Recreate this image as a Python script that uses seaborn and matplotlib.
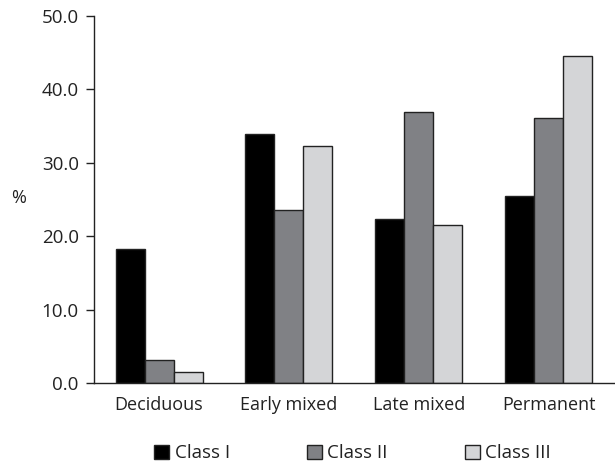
import matplotlib
matplotlib.use("Agg")
import matplotlib.pyplot as plt
import seaborn as sns
import pandas as pd

stages = ["Deciduous", "Early mixed", "Late mixed", "Permanent"]
classes = ["Class I", "Class II", "Class III"]
class_1 = [18.3, 33.9, 22.4, 25.5]
class_2 = [3.2, 23.6, 36.9, 36.1]
class_3 = [1.5, 32.3, 21.5, 44.6]
yticks = [0.0, 10.0, 20.0, 30.0, 40.0, 50.0]

rows = []
for cls, vals in zip(classes, [class_1, class_2, class_3]):
    for st, v in zip(stages, vals):
        rows.append({"stage": st, "cls": cls, "value": v})
df = pd.DataFrame(rows)

sns.set_theme(style="white")
plt.rcParams["font.family"] = ["Open Sans", "DejaVu Sans"]

fig = plt.figure(figsize=(6.15, 4.66), dpi=100)
ax = fig.add_axes([0.153, 0.178, 0.845, 0.788])

palette = {"Class I": "#000000", "Class II": "#808185", "Class III": "#d4d5d7"}
sns.barplot(data=df, x="stage", y="value", hue="cls", hue_order=classes,
            order=stages, palette=palette, edgecolor="#222222", linewidth=1.0,
            width=0.67, gap=0, saturation=1, ax=ax)

ax.set_ylim(0, 50)
ax.set_xlim(-0.5, 3.5)
ax.set_yticks(yticks)
ax.set_yticklabels([f"{t:.1f}" for t in yticks], fontsize=13.5, color="#222222")
ax.set_xticks([-0.5, 0.5, 1.5, 2.5, 3.5])
ax.set_xticklabels([])
ax.set_xticks(range(len(stages)), minor=True)
ax.set_xticklabels(stages, minor=True, fontsize=13, color="#222222")
ax.tick_params(axis="x", which="major", length=7, width=1, color="#222222", direction="out")
ax.tick_params(axis="x", which="minor", length=0, pad=9)
ax.tick_params(axis="y", length=6, width=1, color="#222222", direction="out", left=True, pad=5)
ax.set_xlabel("")
ax.set_ylabel("%", rotation=0, fontsize=13, color="#222222", va="center")
ax.yaxis.set_label_coords(-0.145, 0.505)
for s in ["top", "right"]:
    ax.spines[s].set_visible(False)
for s in ["left", "bottom"]:
    ax.spines[s].set_color("#222222")
    ax.spines[s].set_linewidth(1.0)

ax.legend_.remove()
from matplotlib.patches import Patch
handles = [Patch(facecolor=palette[c], edgecolor="#222222", linewidth=1.0) for c in classes]
fig.legend(handles, classes, loc="center", bbox_to_anchor=(0.573, 0.027), ncol=3,
           frameon=False, fontsize=13.5, handlelength=0.8, handleheight=0.8,
           handletextpad=0.3, columnspacing=4.1, labelcolor="#222222",
           borderpad=0, borderaxespad=0)

fig.savefig("out.png", dpi=100)
